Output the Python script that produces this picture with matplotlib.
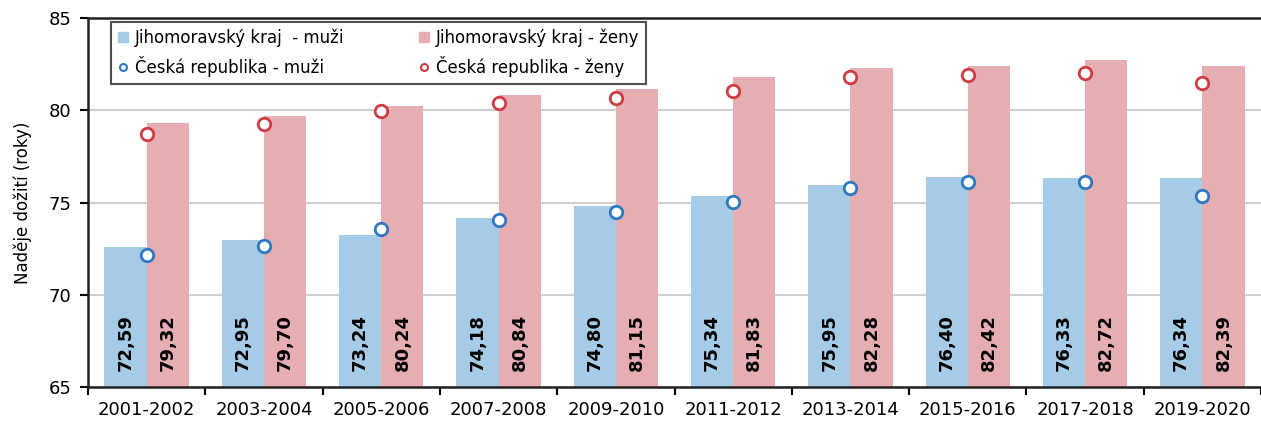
import numpy as np
import matplotlib
import matplotlib.pyplot as plt
from matplotlib.lines import Line2D
from matplotlib.patches import Patch

matplotlib.use('Agg')

obdobi = ["2001-2002", "2003-2004", "2005-2006", "2007-2008", "2009-2010",
          "2011-2012", "2013-2014", "2015-2016", "2017-2018", "2019-2020"]

# Jihomoravský kraj
jmk_muzi = [72.59, 72.95, 73.24, 74.18, 74.80, 75.34, 75.95, 76.40, 76.33, 76.34]
jmk_zeny = [79.32, 79.70, 80.24, 80.84, 81.15, 81.83, 82.28, 82.42, 82.72, 82.39]

# Česká republika
cr_muzi = [72.13, 72.67, 73.55, 74.04, 74.49, 75.02, 75.77, 76.09, 76.09, 75.33]
cr_zeny = [78.73, 79.27, 79.95, 80.37, 80.69, 81.04, 81.78, 81.91, 82.02, 81.49]

modra = "#a6cbe7"
ruzova = "#e6adb2"
modra_kr = "#2e78c2"
cervena_kr = "#cf3c44"

plt.rcParams['font.family'] = ['DejaVu Sans']

fig = plt.figure(figsize=(12.61, 4.26), dpi=100)
ax = fig.add_axes([0.0698, 0.0915, 0.9302, 0.8662])

x = np.arange(len(obdobi))
w = 0.36

ax.bar(x - w / 2, jmk_muzi, w, color=modra, zorder=2)
ax.bar(x + w / 2, jmk_zeny, w, color=ruzova, zorder=2)

ax.plot(x, cr_muzi, 'o', ls='none', ms=9, mfc='white', mec=modra_kr, mew=2, zorder=4)
ax.plot(x, cr_zeny, 'o', ls='none', ms=9, mfc='white', mec=cervena_kr, mew=2, zorder=4)

# popisky hodnot ve sloupcích
for i in range(len(obdobi)):
    for xi, v in ((x[i] - w / 2, jmk_muzi[i]), (x[i] + w / 2, jmk_zeny[i])):
        ax.text(xi, 65.85, f"{v:.2f}".replace(".", ","), rotation=90,
                ha='center', va='bottom', fontsize=13, fontweight='bold',
                color='black', zorder=5)

ax.set_xlim(-0.5, len(obdobi) - 0.5)
ax.set_ylim(65, 85)
ax.set_yticks([65, 70, 75, 80, 85])
ax.set_xticks(x)
ax.set_xticklabels(obdobi)
ax.set_xticks(np.arange(len(obdobi) + 1) - 0.5, minor=True)
ax.tick_params(axis='x', which='major', length=0, pad=10, labelsize=13)
ax.tick_params(axis='x', which='minor', length=6, width=1.5, direction='out')
ax.tick_params(axis='y', length=6, width=1.5, labelsize=13, pad=6)
ax.grid(axis='y', color='#cfcfcf', lw=1.5, zorder=0)
ax.set_axisbelow(True)

for s in ('left', 'bottom', 'top'):
    ax.spines[s].set_linewidth(1.8)
    ax.spines[s].set_color('#222222')
ax.spines['right'].set_visible(False)

ax.set_ylabel("Naděje dožití (roky)", fontsize=12, labelpad=12)

handles = [
    Patch(color=modra, label="Jihomoravský kraj  - muži"),
    Line2D([], [], marker='o', ls='none', ms=5, mfc='white', mec=modra_kr, mew=1.5,
           label="Česká republika - muži"),
    Patch(color=ruzova, label="Jihomoravský kraj - ženy"),
    Line2D([], [], marker='o', ls='none', ms=5, mfc='white', mec=cervena_kr, mew=1.5,
           label="Česká republika - ženy"),
]
leg = ax.legend(handles=handles, ncol=2,
                loc='upper left', bbox_to_anchor=(0.02, 0.99), borderaxespad=0,
                fontsize=12, frameon=True, fancybox=False, edgecolor='#222222',
                handlelength=0.6, handleheight=0.6, handletextpad=0.4,
                columnspacing=4.5, borderpad=0.4, labelspacing=0.55)
leg.get_frame().set_linewidth(1.5)

fig.savefig("out.png", dpi=100)
